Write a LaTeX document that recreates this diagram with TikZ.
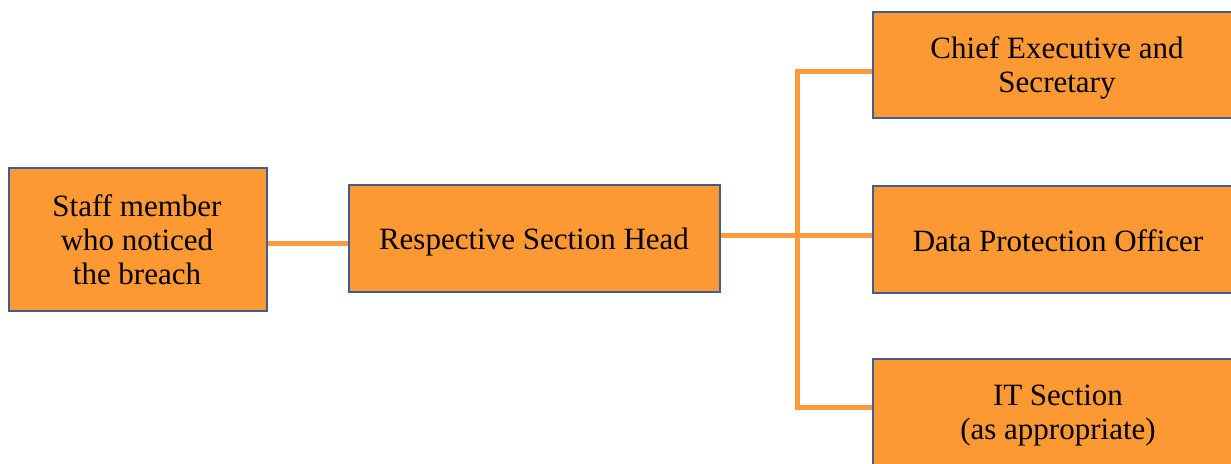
\documentclass[tikz,border=0pt]{standalone}
\usepackage{fontspec}
\setmainfont{Liberation Serif}
\definecolor{boxfill}{RGB}{253,153,51}
\definecolor{boxedge}{RGB}{62,94,154}
\definecolor{linkline}{RGB}{251,154,58}
\begin{document}
\begin{tikzpicture}[x=1pt,y=-1pt,
  labelfont/.style={font=\fontsize{31}{34}\selectfont},
  flowbox/.style={draw=boxedge,line width=2.4pt,fill=boxfill,inner sep=0pt,
    align=center,labelfont},
  boxlabel/.style={align=center,labelfont,inner sep=0pt},
  link/.style={draw=linkline,line width=5pt}]
\useasboundingbox (0,0) rectangle (1231,463);
\clip (0,0) rectangle (1231,463);
% boxes
\node[flowbox,minimum width=258pt,minimum height=143pt] (staff) at (138,239.5) {};
\node[flowbox,minimum width=371pt,minimum height=107pt] (head) at (534.5,238.5) {};
\node[flowbox,minimum width=380pt,minimum height=106pt] (ceo) at (1063,65) {};
\node[flowbox,minimum width=380pt,minimum height=107pt] (dpo) at (1063,239.5) {};
\node[flowbox,minimum width=380pt,minimum height=106pt] (it) at (1063,412) {};
% box labels
\node[boxlabel] (stafft) at (137,240) {Staff member\\who noticed\\the breach};
\node[boxlabel] (headt) at (534,242.5) {Respective Section Head};
\node[boxlabel] (ceot) at (1057,67.5) {Chief Executive and\\Secretary};
\node[boxlabel] (dpot) at (1058,241) {Data Protection Officer};
\node[boxlabel] (itt) at (1058,416) {IT Section\\(as appropriate)};
% connectors
\coordinate (bus) at (797,235);
\draw[link] (staff.east |- 0,243) -- (head.west |- 0,243);
\draw[link] (head.east |- bus) -- (dpo.west |- bus);
\draw[link] (bus |- 0,71) -- (bus |- 0,407);
\draw[link] ([xshift=-2.5pt]bus |- 0,71) -- (ceo.west |- 0,71);
\draw[link] ([xshift=-2.5pt]bus |- 0,407) -- (it.west |- 0,407);
\end{tikzpicture}
\end{document}
